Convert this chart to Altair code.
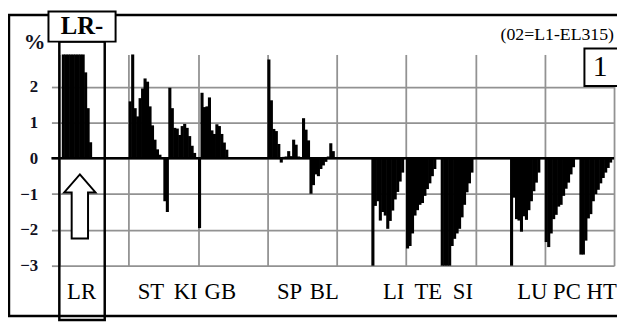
import altair as alt
import pandas as pd

# ---- data ----
group_labels = ["LR", "", "ST", "KI", "GB", "", "SP", "BL", "", "LI", "TE", "SI", "", "LU", "PC", "HT"]

LR = [0, 2.9, 2.9, 2.9, 2.9, 2.9, 2.9, 2.9, 2.9, 2.9, 2.4, 1.4, 0.45, 0]
ST = [1.59, 2.9, 1.4, 1.17, 1.68, 1.95, 2.23, 2.14, 1.45, 0.92, 0.52, 0.25, 0.1, 0]
KI = [-1.2, -1.5, 1.97, 1.4, 0.85, 0.83, 0.65, 0.9, 0.96, 0.85, 0.62, 0.35, 0.15, 0]
GB = [-1.95, 1.83, 1.43, 1.45, 1.7, 0.78, 0.68, 0.95, 0.9, 0.68, 0.44, 0.24, 0, 0]
SP = [2.76, 1.62, 0.82, 0.76, 0.4, -0.12, 0.04, 0.05, 0.2, 0.06, 0.52, 0.38, 0.05, 0]
BL = [1.12, 0.8, 0.5, -0.99, -0.75, -0.45, -0.5, -0.3, -0.2, -0.1, 0.05, 0.42, 0.2, 0]
LI = [-3.0, -1.33, -1.2, -1.74, -1.5, -1.6, -1.97, -1.75, -1.46, -1.15, -0.94, -0.65, -0.4, 0]
TE = [-2.52, -2.45, -2.1, -1.6, -1.45, -1.3, -1.25, -1.05, -0.86, -0.7, -0.5, -0.3, 0, 0]
SI = [-3.0, -3.0, -3.0, -3.0, -2.45, -2.25, -2.1, -1.97, -1.65, -1.3, -0.95, -0.7, -0.4, 0]
LU = [-3.0, -1.1, -1.7, -1.74, -2.05, -1.62, -1.72, -1.45, -1.2, -0.92, -0.68, -0.4, 0, 0]
PC = [-2.34, -2.48, -2.1, -1.7, -1.58, -1.35, -1.3, -1.05, -0.85, -0.68, -0.45, -0.25, 0, 0]
HT = [-2.69, -2.69, -2.3, -1.68, -1.56, -1.2, -1.0, -0.88, -0.7, -0.55, -0.4, -0.27, -0.12, 0]

series = [LR, [], ST, KI, GB, [], SP, BL, [], LI, TE, SI, [], LU, PC, HT]
y_ticks = [-3, -2, -1, 0, 1, 2]
note_text = "(02=L1-EL315)"
panel_text = "1"
box_text = "LR-"

SLOTS = 14
NG = len(group_labels)

rows = []
for g, vals in enumerate(series):
    for i, v in enumerate(vals):
        if v != 0:
            rows.append({"x0": g * SLOTS + i, "x1": g * SLOTS + i + 1.25, "v": v})
bars_df = pd.DataFrame(rows)
lab_df = pd.DataFrame({"label": group_labels, "xc": [g * SLOTS + SLOTS / 2 for g in range(NG)]})
lab_df = lab_df[lab_df["label"] != ""]
one = pd.DataFrame({"a": [0]})

W, H = 562, 214
GRID = "#929292"
xscale = alt.Scale(domain=[0, NG * SLOTS], nice=False, zero=False)
yscale = alt.Scale(domain=[-3, 2.9], nice=False, zero=False)

xaxis = alt.Axis(values=[g * SLOTS for g in range(NG + 1)], grid=True, gridColor=GRID,
                 gridWidth=1.8, labels=False, ticks=False, domain=False, title=None)
yaxis = alt.Axis(values=y_ticks, grid=True, gridColor=GRID, gridWidth=1.8, domain=False,
                 ticks=True, tickColor=GRID, tickWidth=1.8, tickSize=8, labelPadding=14,
                 labelFont="Liberation Serif", labelFontWeight="bold", labelFontSize=17,
                 labelColor="#111122", title=None)

bars = alt.Chart(bars_df).mark_bar(color="black", stroke=None, opacity=1).encode(
    x=alt.X("x0:Q", scale=xscale, axis=xaxis),
    x2="x1:Q",
    y=alt.Y("v:Q", scale=yscale, axis=yaxis),
    y2=alt.datum(0),
)

zero = alt.Chart(one).mark_rule(color="black", strokeWidth=2.5).encode(
    y=alt.datum(0), x=alt.value(-8), x2=alt.value(W)
)

labels = alt.Chart(lab_df).mark_text(font="Liberation Serif", fontSize=23, color="black",
                                     baseline="middle", align="center", dx=5).encode(
    x=alt.X("xc:Q", scale=xscale), y=alt.value(241), text="label:N"
)

outer = alt.Chart(one).mark_rect(fill=None, stroke="black", strokeWidth=2.5).encode(
    x=alt.value(-51), x2=alt.value(640), y=alt.value(-40), y2=alt.value(265)
)
lrcol = alt.Chart(one).mark_rect(fill=None, stroke="black", strokeWidth=2.5).encode(
    x=alt.value(0), x2=alt.value(46), y=alt.value(-13), y2=alt.value(269)
)
lrbox = alt.Chart(one).mark_rect(fill="white", stroke="black", strokeWidth=2).encode(
    x=alt.value(-11), x2=alt.value(57), y=alt.value(-43.5), y2=alt.value(-13)
)
lrtext = alt.Chart(one).mark_text(text=box_text, font="Liberation Serif", fontWeight="bold",
                                  fontSize=25, color="black", baseline="middle").encode(
    x=alt.value(23), y=alt.value(-29)
)
pct = alt.Chart(one).mark_text(text="%", font="Liberation Serif", fontWeight="bold",
                               fontSize=22, color="#111122", baseline="middle").encode(
    x=alt.value(-25), y=alt.value(-13)
)
note = alt.Chart(one).mark_text(text=note_text, font="Liberation Serif", fontSize=18,
                                color="black", baseline="middle", align="right").encode(
    x=alt.value(562), y=alt.value(-20)
)
pbox = alt.Chart(one).mark_rect(fill="white", stroke="black", strokeWidth=2).encode(
    x=alt.value(532), x2=alt.value(575), y=alt.value(-6), y2=alt.value(32)
)
ptext = alt.Chart(one).mark_text(text=panel_text, font="Liberation Serif", fontSize=30,
                                 color="black", baseline="middle").encode(
    x=alt.value(548), y=alt.value(13)
)
arrow_path = ("M0,-1 L0.488,-0.437 L0.255,-0.437 L0.255,1 L-0.255,1 "
              "L-0.255,-0.437 L-0.488,-0.437 Z")
arrow = alt.Chart(one).mark_point(shape=arrow_path, size=4225, filled=True, fill="white",
                                  stroke="black", strokeWidth=2, opacity=1,
                                  fillOpacity=1, strokeOpacity=1).encode(
    x=alt.value(20.8), y=alt.value(154)
)

chart = alt.layer(bars, zero, labels, outer, lrcol, arrow, lrbox, lrtext, pct, note, pbox, ptext).properties(
    width=W, height=H,
    autosize=alt.AutoSizeParams(type="none"),
    padding={"left": 52, "top": 45, "right": 3, "bottom": 57},
    background="white",
).configure_view(stroke=None)

chart.save("out.html", embed_options={"renderer": "svg", "actions": False})
